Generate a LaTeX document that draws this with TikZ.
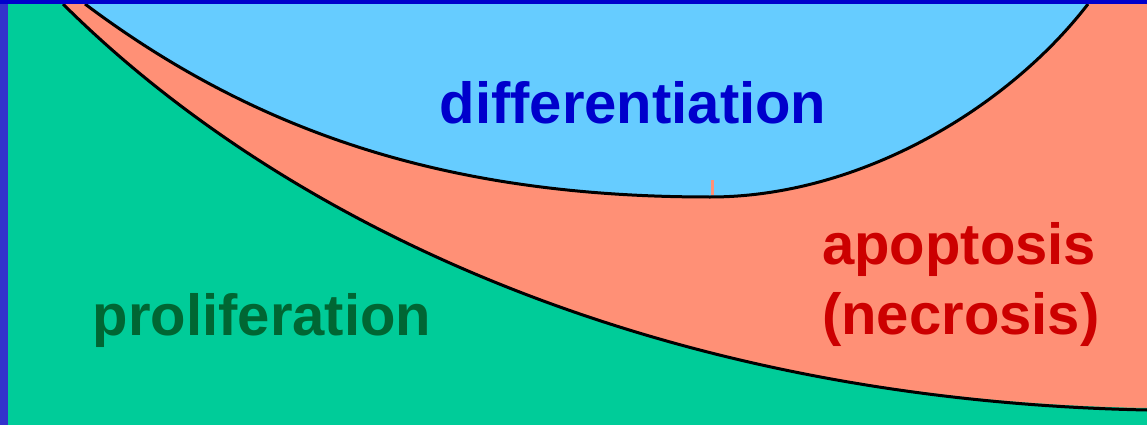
\documentclass[tikz,border=0pt]{standalone}
\usepackage{fontspec}
\setmainfont{Liberation Sans}
\usepackage{xcolor}
\usepackage{tikz}
\definecolor{barblue}{HTML}{3333CC}
\definecolor{topblue}{HTML}{0000CC}
\definecolor{prolgreen}{HTML}{00CC99}
\definecolor{apopsalmon}{HTML}{FF9076}
\definecolor{diffsky}{HTML}{66CCFF}
\definecolor{textblue}{HTML}{0000CC}
\definecolor{textgreen}{HTML}{006633}
\definecolor{textred}{HTML}{CC0000}

\begin{document}
\begin{tikzpicture}[x=1pt,y=-1pt,
  border/.style={line width=3pt,black},
  regionlabel/.style={inner sep=0pt,font=\fontsize{58}{70}\selectfont\bfseries}]
  \useasboundingbox (0,0) rectangle (1147,425);
  \fill[apopsalmon] (0,0) rectangle (1147,425);
  \fill[diffsky] (85,0) -- (85,4) .. controls (265,139) and (460,197) .. (710,197)
    .. controls (860,197) and (1008,108) .. (1088,4) -- (1088,0) -- cycle;
  \draw[border] (85,4) .. controls (265,139) and (460,197) .. (710,197)
    .. controls (860,197) and (1008,108) .. (1088,4);
  \draw[apopsalmon,line width=3pt] (712,180) -- (712,195);
  \fill[prolgreen] (63,4) .. controls (280,220) and (650,400) .. (1147,408)
    -- (1147,425) -- (0,425) -- (0,4) -- cycle;
  \draw[border] (63,4) .. controls (280,220) and (650,400) .. (1147,410);
  \fill[barblue] (0,0) rectangle (8,425);
  \fill[topblue] (0,0) rectangle (1147,4);
  \node[regionlabel,textblue,anchor=base] (diff) at (633,123) {differentiation};
  \node[regionlabel,textgreen,anchor=base] (prol) at (262,335) {proliferation};
  \node[regionlabel,textred,anchor=base west,align=left] (apop) at (822,334) {apoptosis\\(necrosis)};
\end{tikzpicture}
\end{document}
